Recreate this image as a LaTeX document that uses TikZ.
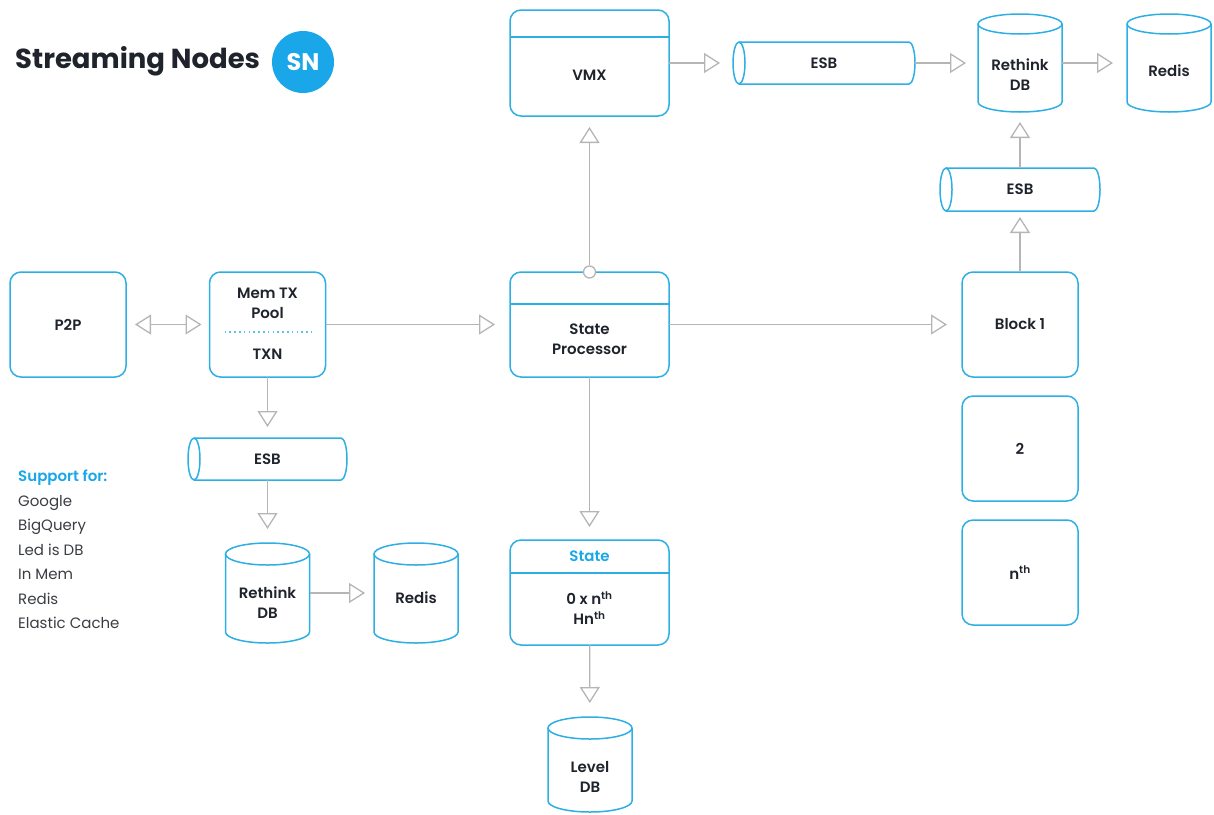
\documentclass[tikz,border=0pt]{standalone}
\usepackage{fontspec}
\setmainfont{Poppins}[BoldFont={Poppins SemiBold}]
\newfontfamily\heavy{Poppins Bold}
\usetikzlibrary{arrows.meta,calc}
\definecolor{cy}{HTML}{2EAFE3}
\definecolor{dotc}{HTML}{5CC3EC}
\definecolor{sn}{HTML}{19A7E9}
\definecolor{ink}{HTML}{1F232B}
\definecolor{gr}{HTML}{B5B5B5}
\definecolor{listc}{HTML}{3A3D42}
\newcommand{\vcyl}[6]{%
  \node[inner sep=0pt, outer sep=0pt, minimum width=#4pt, minimum height=#5pt] (#1) at (#2,#3) {};
  \draw[cylline] ($(#1.north west)+(0,#6)$) -- ($(#1.south west)+(0,-#6)$)
     arc[start angle=180, end angle=360, x radius=#4pt/2, y radius=#6pt] -- ($(#1.north east)+(0,#6)$);
  \draw[cylline] ($(#1.north)+(0,#6)$) ellipse[x radius=#4pt/2, y radius=#6pt];
}
\newcommand{\hcyl}[6]{%
  \node[inner sep=0pt, outer sep=0pt, minimum width=#4pt, minimum height=#5pt] (#1) at (#2,#3) {};
  \draw[cylline] ($(#1.north west)+(#6,0)$) -- ($(#1.north east)+(-#6,0)$)
     arc[start angle=90, end angle=-90, x radius=#6pt, y radius=#5pt/2] -- ($(#1.south west)+(#6,0)$);
  \draw[cylline] ($(#1.west)+(#6,0)$) ellipse[x radius=#6pt, y radius=#5pt/2];
}
\begin{document}
\begin{tikzpicture}[x=1pt,y=-1pt,
  box/.style={draw=cy, line width=1.5pt, rounded corners=11pt, inner sep=0pt, outer sep=0pt, minimum width=116pt, minimum height=105pt},
  wbox/.style={box, minimum width=159pt},
  lbl/.style={font=\bfseries\fontsize{15}{20}\selectfont, text=ink, align=center, inner sep=0pt},
  hdr/.style={draw=cy, line width=1.5pt},
  cylline/.style={draw=cy, line width=1.5pt},
  con/.style={draw=gr, line width=1.3pt, -{Triangle[open, length=16pt, width=20pt]}},
  lst/.style={anchor=base west, inner sep=0pt, font=\fontsize{15}{18}\selectfont, text=listc},
]
\useasboundingbox (0,0) rectangle (1214,814);

% title
\node[anchor=base west, inner sep=0pt, font=\heavy\fontsize{27.5}{30}\selectfont, text=ink] (title) at (15,68) {Streaming Nodes};
\node[circle, fill=sn, minimum size=62pt, inner sep=0pt, text=white, font=\heavy\fontsize{24}{24}\selectfont] (sn) at (303,62) {SN};

% support list
\node[lst, font=\bfseries\fontsize{15}{18}\selectfont, text=sn] (sup0) at (18,481) {Support for:};
\node[lst] (sup1) at (18,506) {Google};
\node[lst] (sup2) at (18,530) {BigQuery};
\node[lst] (sup3) at (18,555) {Led is DB};
\node[lst] (sup4) at (18,579) {In Mem};
\node[lst] (sup5) at (18,604) {Redis};
\node[lst] (sup6) at (18,628) {Elastic Cache};

% boxes
\node[box] (p2p) at (68,324.5) {};
\node[lbl] (p2pt) at (68,324.5) {P2P};

\node[box] (memtx) at (267.5,324.5) {};
\node[lbl] (memtxt) at (267.5,303) {Mem TX\\Pool};
\draw[dotc, line width=1.6pt, dash pattern=on 1.6pt off 3.2pt] ($(memtx.west)+(15,7.5)$) -- ($(memtx.east)+(-14,7.5)$);
\node[lbl] (txn) at (267.5,354) {TXN};

\node[wbox] (sp) at (589.5,324.5) {};
\draw[hdr] ($(sp.north west)+(0,32)$) -- ($(sp.north east)+(0,32)$);
\node[lbl] (spt) at (589.5,339) {State\\Processor};

\node[wbox, minimum height=106pt] (vmx) at (589.5,63) {};
\draw[hdr] ($(vmx.north west)+(0,27)$) -- ($(vmx.north east)+(0,27)$);
\node[lbl] (vmxt) at (589.5,75) {VMX};

\node[wbox] (state) at (589.5,592.5) {};
\draw[hdr] ($(state.north west)+(0,33)$) -- ($(state.north east)+(0,33)$);
\node[lbl, text=sn] (statet) at (589.5,556) {State};
\node[lbl] (statev) at (589.5,608) {0 x n\textsuperscript{th}\\Hn\textsuperscript{th}};

\node[box] (block1) at (1020,324.5) {};
\node[lbl] (block1t) at (1020,324.5) {Block 1};
\node[box] (b2) at (1020,448.5) {};
\node[lbl] (b2t) at (1020,448.5) {2};
\node[box] (bn) at (1020,572.5) {};
\node[lbl] (bnt) at (1020,572.5) {n\textsuperscript{th}};

% cylinders
\vcyl{rt1}{1020}{63}{84}{98}{10}
\node[lbl] (rt1t) at (1020,75) {Rethink\\DB};
\vcyl{rd1}{1169}{63}{84}{98}{10}
\node[lbl] (rd1t) at (1169,71) {Redis};
\vcyl{rt2}{267.5}{593}{84}{100}{11}
\node[lbl] (rt2t) at (267.5,603) {Rethink\\DB};
\vcyl{rd2}{416}{593}{84}{100}{11}
\node[lbl] (rd2t) at (416,598) {Redis};
\vcyl{ldb}{590}{764.5}{84}{95}{11}
\node[lbl] (ldbt) at (590,777) {Level\\DB};

\hcyl{esb1}{824}{63}{182}{42}{6}
\node[lbl] (esb1t) at (824,63) {ESB};
\hcyl{esb2}{1020}{189.5}{160}{43}{6}
\node[lbl] (esb2t) at (1020,189.5) {ESB};
\hcyl{esb3}{267.5}{459}{159}{42}{6}
\node[lbl] (esb3t) at (267.5,459) {ESB};

% connectors
\draw[con, {Triangle[open, length=16pt, width=20pt]}-{Triangle[open, length=16pt, width=20pt]}, shorten <=9pt, shorten >=8pt] (p2p) -- (memtx);
\draw[con, shorten >=15pt] (memtx) -- (sp);
\draw[con, shorten >=15pt] (sp) -- (block1);
\node[circle, draw=gr, fill=white, line width=1.3pt, minimum size=12pt, inner sep=0pt] (spc) at (sp.north) {};
\draw[con, shorten >=11pt] (spc) -- (vmx);
\draw[con, shorten >=13pt] (vmx) -- (esb1);
\draw[con, shorten >=12pt] (esb1) -- (rt1);
\draw[con, shorten >=14pt] (rt1) -- (rd1);
\draw[con, shorten >=6pt] (block1) -- (esb2);
\draw[con, shorten >=10pt] (esb2) -- (rt1);
\draw[con, shorten >=11pt] (memtx) -- (esb3);
\draw[con, shorten >=14pt] (esb3) -- (rt2);
\draw[con, shorten >=9pt] (rt2) -- (rd2);
\draw[con, shorten >=13pt] (sp) -- (state);
\draw[con, shorten >=14pt] (state) -- (ldb);
\end{tikzpicture}
\end{document}
